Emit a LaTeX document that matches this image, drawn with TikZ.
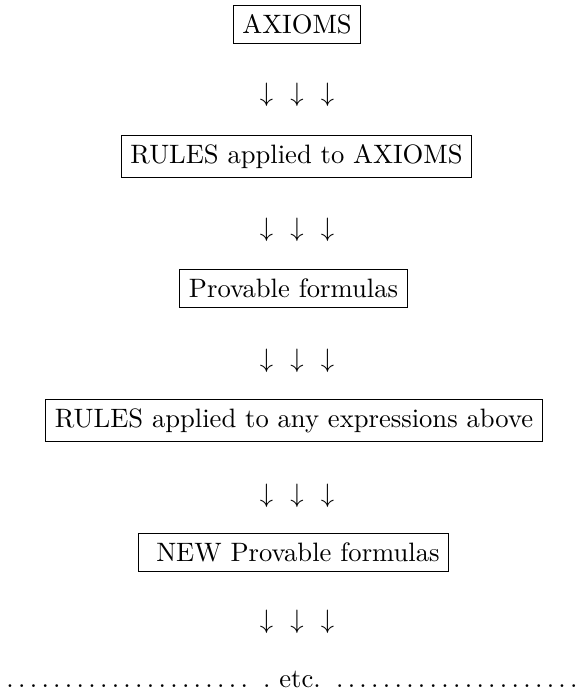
\documentclass[tikz,border=0pt]{standalone}
\begin{document}
\begin{tikzpicture}[x=0.3759pt,y=-0.3759pt,
  stagebox/.style={draw,line width=0.4pt,inner sep=3.4pt},
  arrowrow/.style={inner sep=0pt}]
\useasboundingbox (0,0) rectangle (584,698);
\newcommand{\threearrows}{$\downarrow\hspace{6.5pt}\downarrow\hspace{6.5pt}\downarrow$}
\node[stagebox] (ax) at (297,24.5) {AXIOMS};
\node[arrowrow] (a1) at (297,95) {\threearrows};
\node[stagebox] (ra) at (296.5,156.5) {RULES applied to AXIOMS};
\node[arrowrow] (a2) at (297,229.5) {\threearrows};
\node[stagebox] (pf) at (293.5,288.5) {Provable formulas};
\node[arrowrow] (a3) at (297,361) {\threearrows};
\node[stagebox] (re) at (294,420.5) {RULES applied to any expressions above};
\node[arrowrow] (a4) at (297,496) {\threearrows};
\node[stagebox] (np) at (293.5,552.5) {\ NEW Provable formulas};
\node[arrowrow] (a5) at (297,621.5) {\threearrows};
\node[inner sep=0pt,anchor=base] (etc) at (292,687) {\makebox[219.5pt]{\dotfill\ .\ etc.\ \dotfill}};
\end{tikzpicture}
\end{document}
